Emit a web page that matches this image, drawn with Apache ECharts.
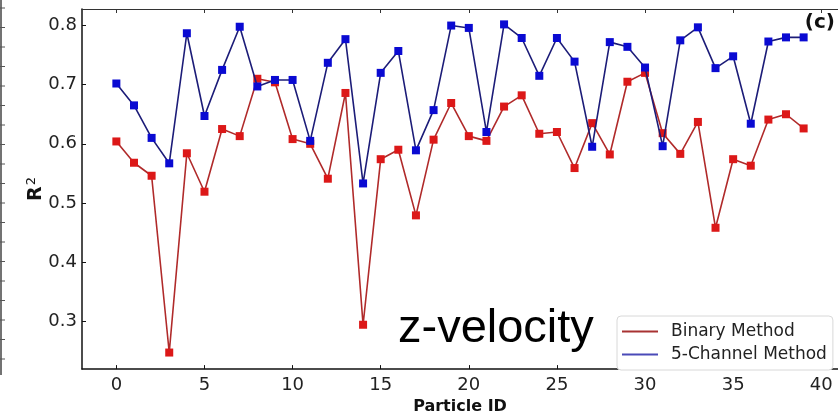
<!DOCTYPE html>
<html>
<head>
<meta charset="utf-8">
<script src="https://cdn.jsdelivr.net/npm/echarts@6/dist/echarts.min.js"></script>
<style>html,body{margin:0;padding:0;background:#fff;}#c{width:838px;height:420px;}</style>
</head>
<body>
<div id="c"></div>
<script>
const particleIds = Array.from({length: 40}, (_, i) => i);
const binaryMethod = [0.604,0.568,0.546,0.247,0.584,0.519,0.625,0.613,0.710,0.704,
  0.608,0.600,0.541,0.686,0.294,0.574,0.590,0.479,0.607,0.669,
  0.613,0.605,0.663,0.682,0.617,0.620,0.559,0.635,0.582,0.705,
  0.720,0.618,0.583,0.637,0.458,0.574,0.563,0.641,0.650,0.626];
const fiveChannelMethod = [0.702,0.665,0.610,0.567,0.787,0.647,0.725,0.798,0.697,0.708,
  0.708,0.605,0.737,0.777,0.533,0.720,0.757,0.589,0.657,0.800,
  0.796,0.620,0.802,0.779,0.715,0.779,0.739,0.595,0.772,0.764,
  0.729,0.596,0.775,0.797,0.728,0.748,0.634,0.773,0.780,0.780];
const xTicks = [0,5,10,15,20,25,30,35,40];
const yTicks = [0.3,0.4,0.5,0.6,0.7,0.8];
const seriesNames = ['Binary Method','5-Channel Method'];

const chart = echarts.init(document.getElementById('c'));
const tickFont = {fontFamily:'DejaVu Sans', fontSize:18, color:'#222'};
const leftTicks = [];
for (let y = 8; y < 375; y += 19.5) leftTicks.push({type:'line', shape:{x1:0,y1:y,x2:5,y2:y}, style:{stroke:'#555', lineWidth:1}});
chart.setOption({
  animation:false,
  grid:{left:82, top:9, bottom:39, right:-6, containLabel:false},
  xAxis:[{
    type:'value', min:-1.95, max:40.95,
    name:'Particle ID', nameLocation:'middle', nameGap:23,
    nameTextStyle:{fontFamily:'DejaVu Sans', fontWeight:'bold', fontSize:16, color:'#111'},
    axisLine:{show:true, onZero:false, lineStyle:{color:'#111', width:1.5}},
    axisTick:{show:true, inside:true, length:4, customValues:xTicks, lineStyle:{color:'#111'}},
    axisLabel:Object.assign({customValues:xTicks, margin:7}, tickFont),
    splitLine:{show:false}
  },{
    type:'value', position:'top', min:-1.95, max:40.95,
    axisLine:{show:true, onZero:false, lineStyle:{color:'#333', width:1}},
    axisTick:{show:true, inside:true, length:4, customValues:xTicks, lineStyle:{color:'#333'}},
    axisLabel:{show:false}, splitLine:{show:false}
  }],
  yAxis:{
    type:'value', min:0.219, max:0.828,
    name:'{r|R}{s|2}', nameLocation:'middle', nameGap:34, nameMoveOverlap:false,
    nameTextStyle:{rich:{r:{fontFamily:'DejaVu Sans', fontWeight:'bold', fontSize:19, color:'#111'},
      s:{fontFamily:'DejaVu Sans', fontSize:13, color:'#111', verticalAlign:'top', padding:[0,0,10,1]}}},
    axisLine:{show:true, onZero:false, lineStyle:{color:'#111', width:1.5}},
    axisTick:{show:true, inside:true, length:4, customValues:yTicks, lineStyle:{color:'#111'}},
    axisLabel:Object.assign({customValues:yTicks, margin:5, formatter:v=>v.toFixed(1)}, tickFont),
    splitLine:{show:false}
  },
  legend:{
    orient:'vertical', left:617, top:316,
    data:[{name:seriesNames[0], icon:'rect', itemStyle:{color:'#a83232'}},
          {name:seriesNames[1], icon:'rect', itemStyle:{color:'#4a4ab8'}}],
    itemWidth:36, itemHeight:2, itemGap:6,
    padding:[7,6,7,5],
    backgroundColor:'#fff', borderColor:'#d8d8d8', borderWidth:1, borderRadius:4,
    textStyle:{fontFamily:'DejaVu Sans', fontSize:17, color:'#222', padding:[0,0,0,8]}
  },
  series:[{
    name:seriesNames[0], type:'line', data:particleIds.map((x,i)=>[x,binaryMethod[i]]),
    symbol:'rect', symbolSize:8, showSymbol:true,
    lineStyle:{color:'#b02a2a', width:1.6},
    itemStyle:{color:'#dc1818'}, z:2
  },{
    name:seriesNames[1], type:'line', data:particleIds.map((x,i)=>[x,fiveChannelMethod[i]]),
    symbol:'rect', symbolSize:8, showSymbol:true,
    lineStyle:{color:'#1c1c78', width:1.6},
    itemStyle:{color:'#0a0ad2'}, z:3
  }],
  graphic:[
    {type:'text', left:398, top:306, style:{text:'z-velocity', font:'47px "Liberation Sans"', fill:'#000'}},
    {type:'text', right:3, top:13, style:{text:'(c)', font:'bold 20px "DejaVu Sans"', fill:'#111'}},
    {type:'line', shape:{x1:1,y1:0,x2:1,y2:375}, style:{stroke:'#444', lineWidth:1.5}},
    {type:'group', children:leftTicks}
  ]
});
</script>
</body>
</html>
